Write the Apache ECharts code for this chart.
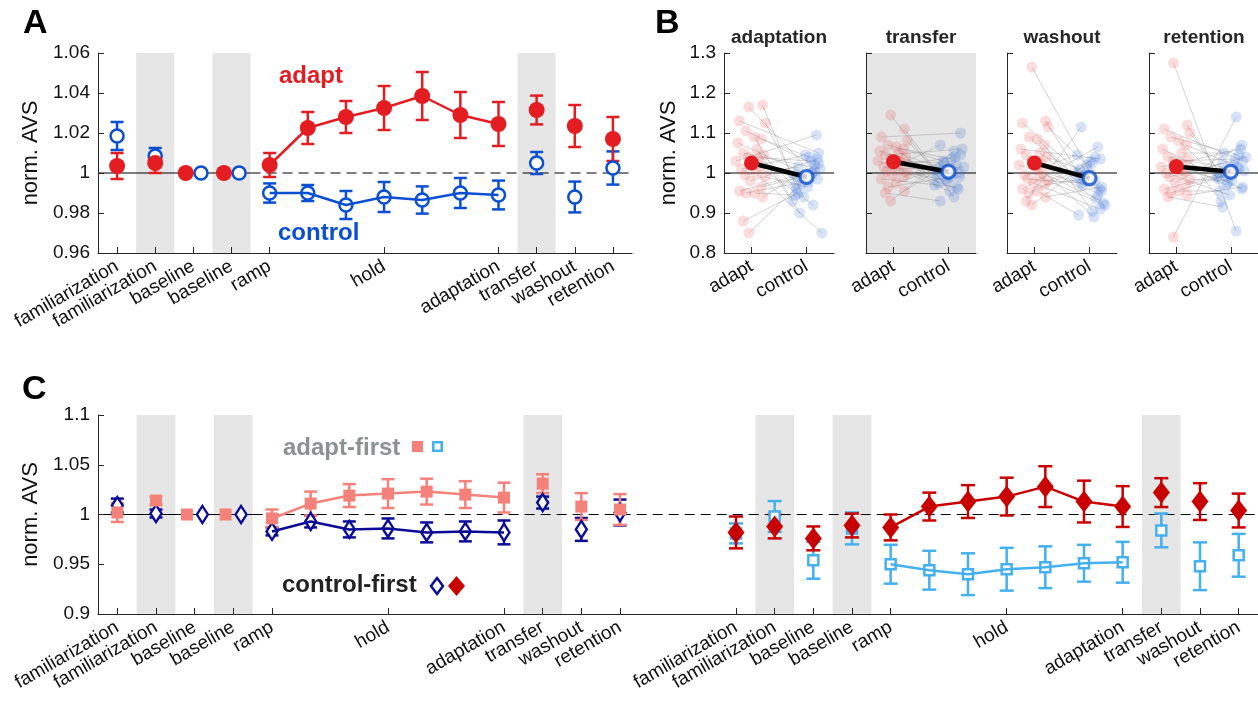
<!DOCTYPE html>
<html>
<head>
<meta charset="utf-8">
<script src="https://cdn.jsdelivr.net/npm/echarts@6/dist/echarts.min.js"></script>
<style>
  html, body { margin: 0; padding: 0; background: #fff; }
  #chart { width: 1258px; height: 705px; }
</style>
</head>
<body>
<div id="chart"></div>
<script>
// ---- shared phase ticks ----
const tickPos = [1, 2, 3, 4, 5, 8, 11, 12, 13, 14];
const tickLabels = ['familiarization', 'familiarization', 'baseline', 'baseline', 'ramp',
  'hold', 'adaptation', 'transfer', 'washout', 'retention'];
const shadedBands = [[1.5, 2.5], [3.5, 4.5], [11.5, 12.5]];
const groupShift = 16; // second block of panel C

// ---- panel A: group means +/- sem ----
const adaptX = [1, 2, 2.8, 3.8, 5, 6, 7, 8, 9, 10, 11, 12, 13, 14];
const adaptMean = [1.0035, 1.005, 1, 1, 1.004, 1.0225, 1.028, 1.0325, 1.0385, 1.029, 1.0245, 1.0315, 1.0235, 1.017];
const adaptSem = [0.0065, 0.005, 0, 0, 0.006, 0.008, 0.008, 0.011, 0.012, 0.0115, 0.011, 0.0072, 0.0105, 0.011];
const controlX = [1, 2, 3.2, 4.2, 5, 6, 7, 8, 9, 10, 11, 12, 13, 14];
const controlMean = [1.0185, 1.0085, 1, 1, 0.990, 0.990, 0.984, 0.988, 0.9865, 0.990, 0.989, 1.005, 0.988, 1.0025];
const controlSem = [0.007, 0.004, 0, 0, 0.0048, 0.004, 0.007, 0.0075, 0.0068, 0.0075, 0.0072, 0.0055, 0.0077, 0.0083];

// ---- panel B: individual subjects per phase ----
const bPhases = ['adaptation', 'transfer', 'washout', 'retention'];
const jitterAdapt = [-0.05, 0.2, -0.22, 0.25, -0.1, 0.05, 0.18, -0.25, 0.1, -0.15, 0.22, -0.05, 0.12, -0.28,
  0.02, 0.15, -0.18, 0.08, -0.12, 0.25, -0.02, 0.18, -0.22, 0.05, -0.1, 0.2, -0.15, -0.05];
const jitterControl = [0.1, -0.2, 0.22, -0.05, 0.15, -0.25, 0.05, 0.2, -0.12, 0.25, -0.18, 0.08, -0.08, 0.18,
  -0.22, 0.12, -0.02, 0.28, -0.15, 0.02, 0.2, -0.1, 0.15, -0.2, 0.05, 0.22, -0.15, 0.1];
const adaptationAdapt = [1.165, 1.17, 1.13, 1.125, 1.105, 1.09, 1.085, 1.075, 1.06, 1.05, 1.045, 1.04, 1.035, 1.03,
  1.02, 1.015, 1.01, 1.0, 0.995, 0.99, 0.98, 0.965, 0.955, 0.95, 0.95, 0.94, 0.88, 0.85];
const adaptationControl = [1.0, 0.97, 1.05, 0.94, 1.02, 0.93, 1.04, 0.985, 0.9, 1.01, 0.96, 1.03, 0.975, 1.095,
  0.995, 0.92, 1.045, 0.85, 1.015, 0.965, 1.035, 0.99, 1.005, 0.945, 0.98, 1.025, 0.95, 1.0];
const transferAdapt = [1.145, 1.11, 1.09, 1.08, 1.07, 1.065, 1.06, 1.055, 1.05, 1.045, 1.04, 1.035, 1.03, 1.03,
  1.025, 1.02, 1.015, 1.01, 1.005, 1.0, 0.995, 0.99, 0.985, 0.975, 0.965, 0.955, 0.95, 0.93];
const transferControl = [0.94, 1.0, 1.1, 0.985, 1.02, 0.97, 1.035, 0.99, 1.01, 1.06, 0.975, 1.005, 1.025, 0.96,
  0.995, 1.04, 0.98, 1.015, 1.07, 0.955, 1.0, 1.03, 0.965, 1.01, 0.99, 1.045, 0.93, 1.055];
const washoutAdapt = [1.265, 1.13, 1.125, 1.115, 1.09, 1.085, 1.07, 1.06, 1.05, 1.045, 1.04, 1.03, 1.025, 1.02,
  1.01, 1.0, 0.995, 0.99, 0.985, 0.98, 0.975, 0.97, 0.96, 0.955, 0.95, 0.94, 0.93, 0.92];
const washoutControl = [0.98, 1.0, 0.955, 1.02, 0.945, 0.99, 0.905, 1.035, 0.97, 0.925, 1.01, 0.89, 0.995, 0.96,
  1.045, 0.935, 1.005, 0.92, 0.975, 1.03, 0.91, 0.985, 1.065, 0.895, 1.025, 0.965, 1.115, 1.04];
const retentionAdapt = [1.275, 1.12, 1.11, 1.1, 1.09, 1.08, 1.07, 1.06, 1.05, 1.04, 1.035, 1.03, 1.02, 1.015,
  1.01, 1.005, 1.0, 0.995, 0.99, 0.985, 0.975, 0.97, 0.96, 0.955, 0.95, 0.945, 0.94, 0.84];
const retentionControl = [0.855, 1.0, 1.03, 0.975, 1.045, 0.99, 1.02, 0.96, 1.05, 1.005, 0.93, 1.035, 0.97, 1.06,
  0.985, 1.015, 0.945, 1.04, 1.025, 0.98, 1.07, 0.995, 1.01, 0.955, 1.0, 0.965, 0.915, 1.14];
const bAdaptMean = [1.025, 1.028, 1.025, 1.016];
const bControlMean = [0.99, 1.003, 0.987, 1.003];

// ---- panel C: order groups ----
const afXLeft = [1, 2, 2.8, 3.8, 5, 6, 7, 8, 9, 10, 11, 12, 13, 14];
const cfXLeft = [1, 2, 3.2, 4.2, 5, 6, 7, 8, 9, 10, 11, 12, 13, 14];
const xRight = [17, 18, 19, 20, 21, 22, 23, 24, 25, 26, 27, 28, 29, 30];
const adaptFirstLeft = [1.002, 1.014, 1, 1, 0.996, 1.011, 1.019, 1.021, 1.023, 1.020, 1.017, 1.031, 1.008, 1.005];
const adaptFirstLeftSem = [0.0095, 0.004, 0, 0, 0.009, 0.012, 0.0115, 0.0145, 0.013, 0.0135, 0.015, 0.0095, 0.0135, 0.0155];
const controlFirstLeft = [1.009, 1.001, 1, 1, 0.983, 0.993, 0.985, 0.986, 0.982, 0.983, 0.982, 1.012, 0.985, 1.002];
const controlFirstLeftSem = [0.007, 0.004, 0, 0, 0.004, 0.006, 0.008, 0.01, 0.01, 0.01, 0.012, 0.006, 0.0115, 0.013];
const controlFirstRight = [0.982, 0.988, 0.976, 0.989, 0.987, 1.008, 1.013, 1.018, 1.028, 1.013, 1.008, 1.022, 1.013, 1.004];
const controlFirstRightSem = [0.016, 0.012, 0.012, 0.012, 0.013, 0.014, 0.0165, 0.019, 0.0205, 0.021, 0.0205, 0.0145, 0.0185, 0.017];
const adaptFirstRight = [0.981, 0.998, 0.954, 0.986, 0.95, 0.944, 0.94, 0.945, 0.947, 0.951, 0.952, 0.984, 0.948, 0.959];
const adaptFirstRightSem = [0.01, 0.0155, 0.0185, 0.016, 0.0195, 0.0195, 0.021, 0.0215, 0.021, 0.0185, 0.0205, 0.017, 0.024, 0.0215];

const FONT = '"Liberation Sans", Arial, Helvetica, sans-serif';
const AX = '#262626';
const RED = '#e41d22', BLUE = '#0a4fd0';
const SALMON = '#f4827b', NAVY = '#0b0b96', DARKRED = '#c80000', LIGHTBLUE = '#45b0ee';
const SHADE = '#e6e6e6';

function errorBars(gi, color, xs, means, sems, capW) {
  return {
    type: 'custom', xAxisIndex: gi, yAxisIndex: gi, silent: true,
    data: xs.map((x, i) => [x, means[i], sems[i]]),
    encode: { x: 0, y: 1 },
    renderItem(params, api) {
      const x = api.value(0), y = api.value(1), e = api.value(2);
      if (!e) return null;
      const t = api.coord([x, y + e]), b = api.coord([x, y - e]);
      const h = capW / 2;
      const st = { stroke: color, lineWidth: 2.5 };
      return { type: 'group', children: [
        { type: 'line', shape: { x1: t[0], y1: t[1], x2: b[0], y2: b[1] }, style: st },
        { type: 'line', shape: { x1: t[0] - h, y1: t[1], x2: t[0] + h, y2: t[1] }, style: st },
        { type: 'line', shape: { x1: b[0] - h, y1: b[1], x2: b[0] + h, y2: b[1] }, style: st }
      ] };
    }
  };
}

function shading(gi, bands, yMin, yMax) {
  return {
    type: 'custom', xAxisIndex: gi, yAxisIndex: gi, silent: true, z: 1,
    data: bands, encode: { x: [0, 1] },
    renderItem(params, api) {
      const a = api.coord([api.value(0), yMax]), b = api.coord([api.value(1), yMin]);
      return { type: 'rect', shape: { x: a[0], y: a[1], width: b[0] - a[0], height: b[1] - a[1] }, style: { fill: SHADE } };
    }
  };
}

function refLine(gi, x0, x1, dash, color) {
  return {
    type: 'custom', xAxisIndex: gi, yAxisIndex: gi, silent: true, z: 1,
    data: [[x0, x1, 1]], encode: { x: [0, 1], y: 2 },
    renderItem(params, api) {
      const a = api.coord([api.value(0), api.value(2)]), b = api.coord([api.value(1), api.value(2)]);
      return { type: 'line', shape: { x1: a[0], y1: a[1], x2: b[0], y2: b[1] },
        style: { stroke: color, lineWidth: 1.2, lineDash: dash }, z2: 5 };
    }
  };
}

function markers(gi, xs, means, sym, size, fill, border) {
  return {
    type: 'scatter', xAxisIndex: gi, yAxisIndex: gi, silent: true,
    symbol: sym, symbolSize: size,
    itemStyle: { color: fill, borderColor: border, borderWidth: fill === '#fff' ? 2.5 : 0, opacity: 1 },
    data: xs.map((x, i) => [x, means[i]])
  };
}

function connect(gi, xs, means, color, from, to) {
  return {
    type: 'line', xAxisIndex: gi, yAxisIndex: gi, silent: true, showSymbol: false,
    lineStyle: { color: color, width: 2.5 },
    data: xs.slice(from, to).map((x, i) => [x, means[from + i]])
  };
}

function phaseXAxis(gi, min, max, ticks, labels) {
  return {
    type: 'value', gridIndex: gi, min: min, max: max, z: 10,
    axisLine: { onZero: false, lineStyle: { color: AX, width: 1 } },
    splitLine: { show: false },
    axisTick: { inside: true, length: 6, customValues: ticks, lineStyle: { color: AX } },
    axisLabel: { customValues: ticks, rotate: 30, margin: 12, fontSize: 19, color: '#111', fontFamily: FONT,
      formatter: v => labels[ticks.indexOf(v)] }
  };
}

function yAx(gi, min, max, interval, showLabels, nameGap) {
  return {
    type: 'value', gridIndex: gi, min: min, max: max, interval: interval, z: 10,
    axisLine: { show: true, onZero: false, lineStyle: { color: AX, width: 1 } },
    splitLine: { show: false },
    axisTick: { show: true, inside: true, length: 6, lineStyle: { color: AX } },
    axisLabel: { show: showLabels, fontSize: 19, color: '#111', margin: 8, fontFamily: FONT },
    name: showLabels ? 'norm. AVS' : '', nameLocation: 'middle', nameGap: nameGap,
    nameTextStyle: { fontSize: 22, color: '#111', fontFamily: FONT }
  };
}

// ---- grids ----
const bLefts = [724, 866, 1007, 1149];
const grids = [{ left: 98, top: 53, width: 534, height: 200 }];
bLefts.forEach((l, i) => grids.push({ left: l, top: 53, width: 110, height: 200,
  show: i === 1, backgroundColor: SHADE, borderWidth: 0 }));
grids.push({ left: 98, top: 415, width: 1160, height: 199 });

const xAxes = [phaseXAxis(0, 0.5, 14.5, tickPos, tickLabels)];
const yAxes = [yAx(0, 0.96, 1.06, 0.02, true, 56)];
bPhases.forEach((p, i) => {
  xAxes.push(phaseXAxis(i + 1, 0.5, 2.5, [1, 2], ['adapt', 'control']));
  yAxes.push(yAx(i + 1, 0.8, 1.3, 0.1, i === 0, 44));
});
const cTicks = tickPos.concat(tickPos.map(p => p + groupShift));
const cLabels = tickLabels.concat(tickLabels);
xAxes.push(phaseXAxis(5, 0.5, 30.5, cTicks, cLabels));
yAxes.push(yAx(5, 0.9, 1.1, 0.05, true, 56));

// ---- series ----
const series = [];
// panel A
series.push(shading(0, shadedBands, 0.96, 1.06));
series.push(refLine(0, 0.5, 4.5, null, '#000'));
series.push(refLine(0, 4.5, 14.5, [10, 6], '#000'));
series.push(errorBars(0, BLUE, controlX, controlMean, controlSem, 13));
series.push(connect(0, controlX, controlMean, BLUE, 4, 11));
series.push(markers(0, controlX, controlMean, 'circle', 13, '#fff', BLUE));
series.push(errorBars(0, RED, adaptX, adaptMean, adaptSem, 13));
series.push(connect(0, adaptX, adaptMean, RED, 4, 11));
series.push(markers(0, adaptX, adaptMean, 'circle', 16, RED, RED));

// panel B
const bAdapt = [adaptationAdapt, transferAdapt, washoutAdapt, retentionAdapt];
const bControl = [adaptationControl, transferControl, washoutControl, retentionControl];
bPhases.forEach((p, k) => {
  const gi = k + 1;
  const a = bAdapt[k], c = bControl[k];
  series.push(refLine(gi, 0.5, 2.5, null, '#000'));
  series.push({
    type: 'custom', xAxisIndex: gi, yAxisIndex: gi, silent: true, z: 2,
    data: a.map((v, i) => [1 + jitterAdapt[i], v, 2 + jitterControl[i], c[i]]),
    encode: { x: [0, 2], y: [1, 3] },
    renderItem(params, api) {
      const s = api.coord([api.value(0), api.value(1)]), e = api.coord([api.value(2), api.value(3)]);
      return { type: 'line', shape: { x1: s[0], y1: s[1], x2: e[0], y2: e[1] },
        style: { stroke: 'rgba(130,130,130,0.42)', lineWidth: 0.8 } };
    }
  });
  series.push({
    type: 'scatter', xAxisIndex: gi, yAxisIndex: gi, silent: true, symbolSize: 11,
    itemStyle: { color: 'rgba(236,80,80,0.24)' },
    data: a.map((v, i) => [1 + jitterAdapt[i], v])
  });
  series.push({
    type: 'scatter', xAxisIndex: gi, yAxisIndex: gi, silent: true, symbolSize: 11,
    itemStyle: { color: 'rgba(50,110,220,0.24)' },
    data: c.map((v, i) => [2 + jitterControl[i], v])
  });
  series.push({
    type: 'line', xAxisIndex: gi, yAxisIndex: gi, silent: true, showSymbol: false, z: 3,
    lineStyle: { color: '#000', width: 4.5 },
    data: [[1, bAdaptMean[k]], [2, bControlMean[k]]]
  });
  series.push(Object.assign(markers(gi, [1], [bAdaptMean[k]], 'circle', 15, RED, RED), { z: 4 }));
  series.push(Object.assign(markers(gi, [2], [bControlMean[k]], 'circle', 13, '#fff', BLUE),
    { z: 4, itemStyle: { color: '#fff', borderColor: BLUE, borderWidth: 3.2 } }));
});

// panel C
series.push(shading(5, shadedBands.concat(shadedBands.map(b => [b[0] + groupShift, b[1] + groupShift])), 0.9, 1.1));
series.push(refLine(5, 0.5, 4.5, null, '#000'));
series.push(refLine(5, 4.5, 30.5, [10, 6], '#000'));
series.push(errorBars(5, NAVY, cfXLeft, controlFirstLeft, controlFirstLeftSem, 13));
series.push(connect(5, cfXLeft, controlFirstLeft, NAVY, 4, 11));
series.push(markers(5, cfXLeft, controlFirstLeft, 'diamond', [11, 17], '#fff', NAVY));
series.push(errorBars(5, SALMON, afXLeft, adaptFirstLeft, adaptFirstLeftSem, 13));
series.push(connect(5, afXLeft, adaptFirstLeft, SALMON, 4, 11));
series.push(markers(5, afXLeft, adaptFirstLeft, 'rect', 12, SALMON, SALMON));
series.push(errorBars(5, LIGHTBLUE, xRight, adaptFirstRight, adaptFirstRightSem, 14));
series.push(connect(5, xRight, adaptFirstRight, LIGHTBLUE, 4, 11));
series.push(markers(5, xRight, adaptFirstRight, 'rect', 10, '#fff', LIGHTBLUE));
series.push(errorBars(5, DARKRED, xRight, controlFirstRight, controlFirstRightSem, 14));
series.push(connect(5, xRight, controlFirstRight, DARKRED, 4, 11));
series.push(markers(5, xRight, controlFirstRight, 'diamond', [17, 22], DARKRED, DARKRED));

// ---- annotations ----
const txt = (x, y, text, size, color, align) => ({
  type: 'text', x: x, y: y, z: 20, silent: true,
  style: { text: text, font: 'bold ' + size + 'px ' + FONT, fill: color,
    align: align || 'left', verticalAlign: 'middle', textAlign: align || 'left', textVerticalAlign: 'middle' }
});
const graphic = [
  txt(23, 24, 'A', 34, '#000'),
  txt(655, 24, 'B', 34, '#000'),
  txt(22, 390, 'C', 34, '#000'),
  txt(279, 76, 'adapt', 24, RED),
  txt(278, 233, 'control', 24, BLUE),
  txt(283, 448, 'adapt-first', 24, '#8b9191'),
  txt(282, 585, 'control-first', 24, '#222')
];
bPhases.forEach((p, k) => graphic.push(txt(bLefts[k] + 55, 38, p, 19, '#262626', 'center')));
graphic.push({ type: 'rect', z: 20, shape: { x: 412, y: 441, width: 11, height: 11 }, style: { fill: SALMON } });
graphic.push({ type: 'rect', z: 20, shape: { x: 433.25, y: 442.25, width: 8.5, height: 8.5 },
  style: { fill: '#fff', stroke: LIGHTBLUE, lineWidth: 2.5 } });
graphic.push({ type: 'polygon', z: 20, shape: { points: [[437, 578], [443, 586], [437, 594], [431, 586]] },
  style: { fill: '#fff', stroke: NAVY, lineWidth: 2.5 } });
graphic.push({ type: 'polygon', z: 20, shape: { points: [[456.5, 576], [465, 586], [456.5, 596], [448, 586]] },
  style: { fill: DARKRED } });

const chart = echarts.init(document.getElementById('chart'), null, { renderer: 'canvas' });
chart.setOption({
  animation: false,
  backgroundColor: '#fff',
  textStyle: { fontFamily: FONT },
  grid: grids,
  xAxis: xAxes,
  yAxis: yAxes,
  series: series,
  graphic: graphic
});
</script>
</body>
</html>
